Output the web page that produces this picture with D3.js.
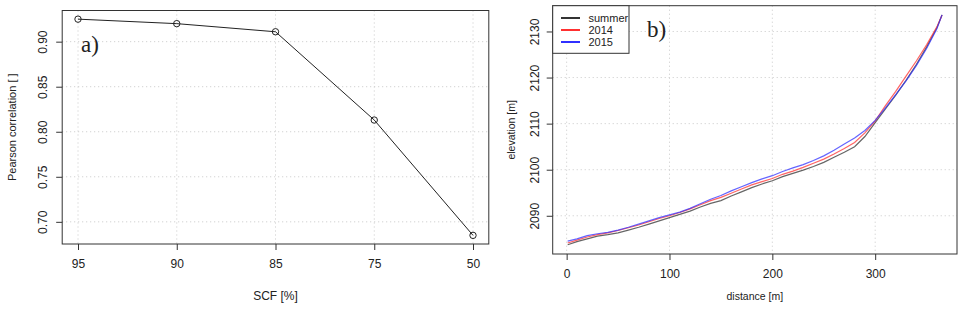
<!DOCTYPE html>
<html><head><meta charset="utf-8">
<script src="https://cdn.jsdelivr.net/npm/d3@7"></script>
<style>body{margin:0;background:#fff}svg{display:block}text{font-family:"Liberation Sans",Arial,sans-serif;fill:#222}</style>
</head><body>
<script>
// Panel a data
const scfLabels = ["95","90","85","75","50"];
const pearson = [0.925, 0.920, 0.911, 0.813, 0.685];
const pearsonTicks = [0.70, 0.75, 0.80, 0.85, 0.90];

// Panel b data
const distance = [1,10,20,30,40,50,60,70,80,90,100,110,120,130,140,150,160,170,180,190,200,210,220,230,240,250,260,270,280,290,300,310,320,330,340,350,360,365];
const summer = [2083.7,2084.4,2085.0,2085.6,2085.9,2086.3,2086.9,2087.5,2088.2,2088.9,2089.6,2090.3,2091.0,2091.9,2092.7,2093.3,2094.3,2095.2,2096.1,2096.9,2097.6,2098.5,2099.2,2099.9,2100.7,2101.6,2102.7,2103.8,2105.0,2107.2,2110.2,2113.2,2116.2,2119.4,2122.8,2126.6,2130.8,2133.6];
const y2014 = [2084.1,2084.7,2085.4,2085.9,2086.3,2086.8,2087.4,2088.0,2088.7,2089.4,2090.0,2090.7,2091.5,2092.4,2093.3,2094.0,2094.9,2095.8,2096.7,2097.4,2098.1,2099.0,2099.7,2100.5,2101.4,2102.3,2103.4,2104.6,2105.9,2108.0,2110.6,2113.9,2117.0,2120.3,2123.6,2127.1,2131.0,2133.5];
const y2015 = [2084.5,2085.0,2085.7,2086.1,2086.4,2086.9,2087.5,2088.2,2088.9,2089.6,2090.2,2090.8,2091.6,2092.6,2093.6,2094.4,2095.4,2096.3,2097.2,2098.0,2098.7,2099.6,2100.4,2101.1,2102.0,2103.0,2104.2,2105.6,2106.9,2108.5,2110.7,2113.4,2116.3,2119.3,2122.6,2126.3,2130.6,2133.6];
const distTicks = [0,100,200,300];
const elevTicks = [2090,2100,2110,2120,2130];
const seriesNames = ["summer","2014","2015"];
const seriesColors = ["#333333","#ff3030","#3030ff"];

const W = 963, H = 309;
const svg = d3.select("body").append("svg").attr("width", W).attr("height", H);
const gridStyle = s => s.attr("stroke","#c8c8c8").attr("stroke-width",1).attr("stroke-dasharray","1,3");
const TICK = 6;

// ---------- Panel a ----------
{
  const L = 62.2, R = 488.8, T = 10.5, B = 244;
  const x = d3.scaleLinear().domain([0.84, 5.16]).range([L, R]);
  const lo = 0.685, hi = 0.925, pad = (hi - lo) * 0.04;
  const y = d3.scaleLinear().domain([lo - pad, hi + pad]).range([B, T]);
  const g = svg.append("g");
  const idx = scfLabels.map((d, i) => i + 1);
  g.selectAll(".gv").data(idx).join("line").call(gridStyle)
    .attr("x1", d => x(d)).attr("x2", d => x(d)).attr("y1", T).attr("y2", B);
  g.selectAll(".gh").data(pearsonTicks).join("line").call(gridStyle)
    .attr("x1", L).attr("x2", R).attr("y1", d => y(d)).attr("y2", d => y(d));
  const line = d3.line().x((d, i) => x(i + 1)).y(d => y(d));
  g.append("path").datum(pearson).attr("d", line).attr("fill","none").attr("stroke","#222").attr("stroke-width",1);
  g.selectAll("circle").data(pearson).join("circle").attr("cx",(d,i)=>x(i+1)).attr("cy",d=>y(d)).attr("r",3.2)
    .attr("fill","none").attr("stroke","#222").attr("stroke-width",1);
  const xa = g.append("g").attr("transform",`translate(0,${B})`)
    .call(d3.axisBottom(x).tickValues(idx).tickFormat((d,i)=>scfLabels[i]).tickSize(TICK).tickPadding(9));
  const ya = g.append("g").attr("transform",`translate(${L},0)`)
    .call(d3.axisLeft(y).tickValues(pearsonTicks).tickFormat(d3.format(".2f")).tickSize(TICK).tickPadding(0));
  [xa, ya].forEach(a => { a.select(".domain").remove(); a.selectAll("line").attr("stroke","#333"); a.selectAll("text").style("font-size","12px").attr("fill","#222"); });
  ya.selectAll(".tick text").attr("x", null).attr("dy", null).attr("text-anchor","middle")
    .attr("transform","translate(-19,0) rotate(-90)").attr("dy","0.35em");
  g.append("rect").attr("x",L).attr("y",T).attr("width",R-L).attr("height",B-T).attr("fill","none").attr("stroke","#333").attr("stroke-width",1);
  g.append("text").attr("x",(L+R)/2).attr("y",300).attr("text-anchor","middle").style("font-size","12px").text("SCF [%]");
  g.append("text").attr("transform",`translate(16,${(T+B)/2}) rotate(-90)`).attr("text-anchor","middle").style("font-size","11px").text("Pearson correlation [ ]");
  g.append("text").attr("x",81).attr("y",52).style("font-family","'Liberation Serif','Times New Roman',serif").style("font-size","23px").attr("fill","#000").text("a)");
}

// ---------- Panel b ----------
{
  const L = 552.7, R = 957, T = 5.7, B = 254;
  const dmin = d3.min(distance), dmax = d3.max(distance), dp = (dmax - dmin) * 0.04;
  const all = summer.concat(y2014, y2015);
  const emin = d3.min(all), emax = d3.max(all), ep = (emax - emin) * 0.04;
  const x = d3.scaleLinear().domain([dmin - dp, dmax + dp]).range([L, R]);
  const y = d3.scaleLinear().domain([emin - ep, emax + ep]).range([B, T]);
  const g = svg.append("g");
  g.selectAll(".gv").data(distTicks).join("line").call(gridStyle)
    .attr("x1", d => x(d)).attr("x2", d => x(d)).attr("y1", T).attr("y2", B);
  g.selectAll(".gh").data(elevTicks).join("line").call(gridStyle)
    .attr("x1", L).attr("x2", R).attr("y1", d => y(d)).attr("y2", d => y(d));
  const series = [summer, y2014, y2015];
  const line = d3.line().x((d, i) => x(distance[i])).y(d => y(d));
  series.forEach((s, k) => {
    g.append("path").datum(s).attr("d", line).attr("fill","none").attr("stroke", seriesColors[k])
      .attr("stroke-opacity", 0.75).attr("stroke-width", 1.2);
  });
  const xa = g.append("g").attr("transform",`translate(0,${B})`)
    .call(d3.axisBottom(x).tickValues(distTicks).tickFormat(d3.format("d")).tickSize(TICK).tickPadding(9));
  const ya = g.append("g").attr("transform",`translate(${L},0)`)
    .call(d3.axisLeft(y).tickValues(elevTicks).tickFormat(d3.format("d")).tickSize(TICK).tickPadding(0));
  [xa, ya].forEach(a => { a.select(".domain").remove(); a.selectAll("line").attr("stroke","#333"); a.selectAll("text").style("font-size","12px").attr("fill","#222"); });
  ya.selectAll(".tick text").attr("x", null).attr("dy", null).attr("text-anchor","middle")
    .attr("transform","translate(-18,0) rotate(-90)").attr("dy","0.35em");
  g.append("rect").attr("x",L).attr("y",T).attr("width",R-L).attr("height",B-T).attr("fill","none").attr("stroke","#333").attr("stroke-width",1);
  g.append("text").attr("x",(L+R)/2).attr("y",300).attr("text-anchor","middle").style("font-size","10.5px").text("distance [m]");
  g.append("text").attr("transform",`translate(515,${(T+B)/2}) rotate(-90)`).attr("text-anchor","middle").style("font-size","10.5px").text("elevation [m]");
  g.append("text").attr("x",647).attr("y",37).style("font-family","'Liberation Serif','Times New Roman',serif").style("font-size","23px").attr("fill","#000").text("b)");
  const lg = g.append("g");
  lg.append("rect").attr("x",L).attr("y",T).attr("width",629-L).attr("height",53.3-T).attr("fill","#fff").attr("stroke","#333").attr("stroke-width",1);
  seriesNames.forEach((n, k) => {
    const yy = 18 + k * 12;
    lg.append("line").attr("x1",561).attr("x2",580).attr("y1",yy).attr("y2",yy).attr("stroke",seriesColors[k]).attr("stroke-width",2);
    lg.append("text").attr("x",588.5).attr("y",yy).attr("dy","0.35em").style("font-size","11px").text(n);
  });
}
</script>
</body></html>
